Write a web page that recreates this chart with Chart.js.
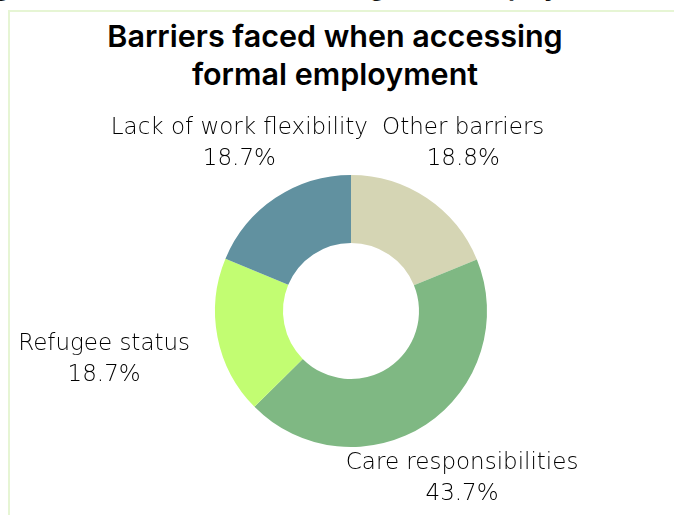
<!DOCTYPE html>
<html>
<head>
<meta charset="utf-8">
<script src="https://cdn.jsdelivr.net/npm/chart.js@4.4.1/dist/chart.umd.min.js"></script>
<style>
  html, body { margin: 0; padding: 0; background: #fff; }
  body { width: 674px; height: 515px; position: relative; overflow: hidden; }
  #heading {
    position: absolute; left: -6px; top: -27px; white-space: nowrap;
    font: 700 24px Inter, "Noto Sans", sans-serif; color: #111;
  }
  #panel {
    position: absolute; left: 8px; top: 10px; width: 720px; height: 560px;
    border-left: 2px solid #e6f5d4; border-top: 2px solid #e6f5d4;
  }
  #title {
    position: absolute; left: 0; top: 17px; width: 670px; text-align: center;
    font: 600 30.5px Inter, "Noto Sans", sans-serif; line-height: 38px; color: #000;
  }
  #chart { position: absolute; left: 0; top: 0; }
</style>
</head>
<body>
<div id="heading">g: Barriers faced when accessing formal employment</div>
<div id="panel"></div>
<div id="title">Barriers faced when accessing<br>formal employment</div>
<canvas id="chart" width="674" height="515"></canvas>
<script>
// Share of respondents by main barrier, clockwise from 12 o'clock.
const categories = ["Other barriers", "Care responsibilities", "Refugee status", "Lack of work flexibility"];
const shares = [18.8, 43.7, 18.7, 18.7];
const sliceColors = ["#d5d5b4", "#7fb883", "#c2fd72", "#6191a0"];

const LABEL_FONT = '200 23px "DejaVu Sans", "Open Sans", sans-serif';
const LINE_H = 31;

/** Two-line outside labels (name + percent) placed along each slice's mid angle. */
const outsideLabels = {
  id: "outsideLabels",
  afterDatasetsDraw(chart, _args, opts) {
    const { ctx } = chart;
    const meta = chart.getDatasetMeta(0);
    const pad = opts.pad ?? 28;
    ctx.save();
    ctx.font = LABEL_FONT;
    ctx.fillStyle = "#000";
    ctx.textAlign = "center";
    ctx.textBaseline = "middle";
    meta.data.forEach((arc, i) => {
      const { x, y, startAngle, endAngle, outerRadius } =
        arc.getProps(["x", "y", "startAngle", "endAngle", "outerRadius"], true);
      const mid = (startAngle + endAngle) / 2;
      const dx = Math.cos(mid), dy = Math.sin(mid);
      const lines = [chart.data.labels[i], shares[i].toFixed(1) + "%"];
      const w = Math.max(...lines.map((t) => ctx.measureText(t).width));
      const h = LINE_H * 2;
      // distance from box centre to its edge along the slice direction
      const edge = Math.min(
        Math.abs(dx) > 1e-6 ? w / 2 / Math.abs(dx) : Infinity,
        Math.abs(dy) > 1e-6 ? h / 2 / Math.abs(dy) : Infinity,
      );
      const d = outerRadius + pad + edge;
      const cx = x + dx * d, cy = y + dy * d;
      ctx.fillText(lines[0], cx, cy - LINE_H / 2);
      ctx.fillText(lines[1], cx, cy + LINE_H / 2);
    });
    ctx.restore();
  },
};

new Chart(document.getElementById("chart"), {
  type: "doughnut",
  data: {
    labels: categories,
    datasets: [
      {
        data: shares,
        backgroundColor: sliceColors,
        borderWidth: 0,
      },
    ],
  },
  options: {
    responsive: false,
    animation: false,
    cutout: "50%",
    layout: { padding: { top: 175, bottom: 68, left: 100, right: 72 } },
    plugins: {
      legend: { display: false },
      tooltip: { enabled: false },
      outsideLabels: { pad: 28 },
    },
  },
  plugins: [outsideLabels],
});
</script>
</body>
</html>
